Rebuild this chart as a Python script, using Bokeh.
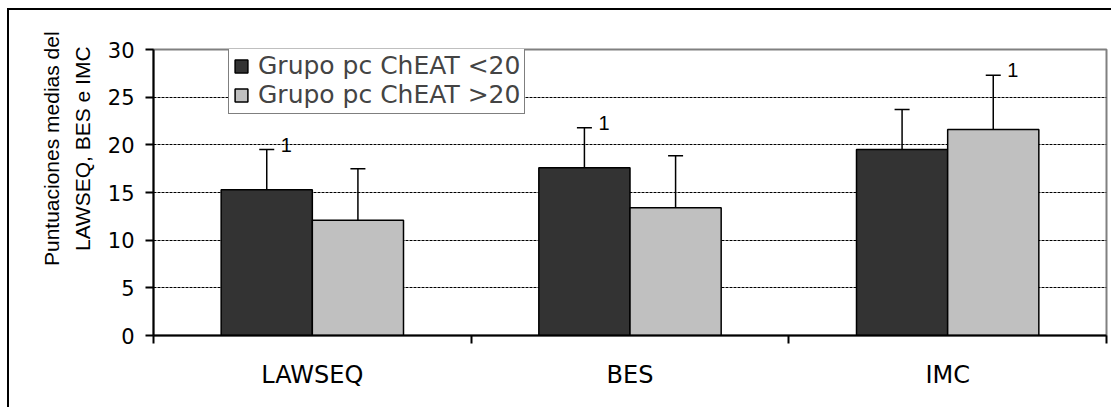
import numpy as np
from bokeh.plotting import figure
from bokeh.models import (ColumnDataSource, FixedTicker, Whisker, TeeHead,
                          Legend, LegendItem)
from bokeh.transform import dodge
from bokeh.core.properties import value
from bokeh.embed import file_html
from bokeh.resources import INLINE

categories = ["LAWSEQ", "BES", "IMC"]
series_names = ["Grupo pc ChEAT <20", "Grupo pc ChEAT >20"]
mean_lt20 = [15.3, 17.6, 19.5]
err_top_lt20 = [19.5, 21.8, 23.7]
mean_gt20 = [12.1, 13.4, 21.6]
err_top_gt20 = [17.5, 18.85, 27.3]
sig_lt20 = ["1", "1", ""]
sig_gt20 = ["", "", "1"]
y_ticks = [0, 5, 10, 15, 20, 25, 30]
y_title = ["Puntuaciones medias del", "LAWSEQ, BES e IMC"]

FONT = "Liberation Sans"
WFONT = "DejaVu Sans"
DARK = "#333333"
LIGHT = "#C0C0C0"
BW = 0.287
NB = "\u00a0" * 15

xi = [i + 0.5 for i in range(len(categories))]
src = ColumnDataSource(dict(x=xi, m1=mean_lt20, e1=err_top_lt20, s1=sig_lt20,
                            m2=mean_gt20, e2=err_top_gt20, s2=sig_gt20))

p = figure(width=1104, height=399, output_backend="svg", toolbar_location=None,
           x_range=(0, len(categories)), y_range=(0, 30),
           min_border_left=144, min_border_right=7, min_border_top=39, min_border_bottom=74,
           background_fill_color="white", border_fill_color="white")
p.styles = {"margin-left": "7px", "margin-top": "8px",
            "border-top": "2px solid black", "border-left": "2px solid black"}

p.outline_line_color = "#808080"
p.outline_line_width = 2

r1 = p.vbar(x=dodge("x", -BW / 2, range=p.x_range), top="m1", width=BW, source=src,
            fill_color=DARK, line_color="black", line_width=1.5)
r2 = p.vbar(x=dodge("x", BW / 2, range=p.x_range), top="m2", width=BW, source=src,
            fill_color=LIGHT, line_color="black", line_width=1.5)

for dx, m, e in [(-BW / 2, "m1", "e1"), (BW / 2, "m2", "e2")]:
    w = Whisker(base=dodge("x", dx, range=p.x_range), lower=m, upper=e, source=src,
                dimension="height", line_color="black", line_width=1.5,
                upper_head=TeeHead(size=15, line_color="black", line_width=1.5),
                lower_head=None)
    p.add_layout(w)

for dx, e, s in [(-BW / 2, "e1", "s1"), (BW / 2, "e2", "s2")]:
    p.text(x=dodge("x", dx, range=p.x_range), y=e, text=s, source=src,
           x_offset=14, y_offset=-5, text_align="left", text_baseline="middle",
           text_font=value(FONT), text_font_size="20px", text_color="black")

# grid
p.xgrid.visible = False
p.ygrid.ticker = FixedTicker(ticks=y_ticks[1:-1])
p.ygrid.grid_line_color = "black"
p.ygrid.grid_line_width = 1
p.ygrid.grid_line_dash = "3 1"

# x axis
xa = p.xaxis[0]
xa.ticker = FixedTicker(ticks=xi, minor_ticks=list(range(len(categories) + 1)))
xa.major_label_overrides = {x: c for x, c in zip(xi, categories)}
xa.major_tick_out = 0
xa.major_tick_in = 0
xa.minor_tick_out = 8
xa.minor_tick_in = 0
xa.minor_tick_line_color = "black"
xa.minor_tick_line_width = 2
xa.axis_line_color = "black"
xa.axis_line_width = 2
xa.major_label_text_font = WFONT
xa.major_label_text_font_size = "24px"
xa.major_label_text_color = "black"
xa.major_label_standoff = 17

ya = p.yaxis[0]
ya.ticker = FixedTicker(ticks=y_ticks)
ya.major_tick_out = 8
ya.major_tick_in = 0
ya.minor_tick_out = 0
ya.minor_tick_in = 0
ya.major_tick_line_color = "black"
ya.major_tick_line_width = 2
ya.axis_line_color = "black"
ya.axis_line_width = 2
ya.major_label_text_font = WFONT
ya.major_label_text_font_size = "21px"
ya.major_label_text_color = "black"
ya.major_label_standoff = 11
ya.axis_label = "\n".join(NB + t for t in y_title)
ya.axis_label_text_font = FONT
ya.axis_label_text_font_size = "21px"
ya.axis_label_text_font_style = "normal"
ya.axis_label_text_color = "black"
ya.axis_label_standoff = 11
ya.axis_label_text_line_height = 1.35

legend = Legend(items=[LegendItem(label=series_names[0], renderers=[r1]),
                       LegendItem(label=series_names[1], renderers=[r2])],
                location=(75, 221), orientation="vertical",
                label_text_font=WFONT, label_text_font_size="25px",
                glyph_width=16, glyph_height=16, label_standoff=9,
                padding=4, spacing=0, margin=0, label_height=27,
                border_line_color="black", border_line_width=1.5,
                background_fill_color="white", background_fill_alpha=1)
p.add_layout(legend)

open("out.html", "w").write(file_html(p, INLINE))
